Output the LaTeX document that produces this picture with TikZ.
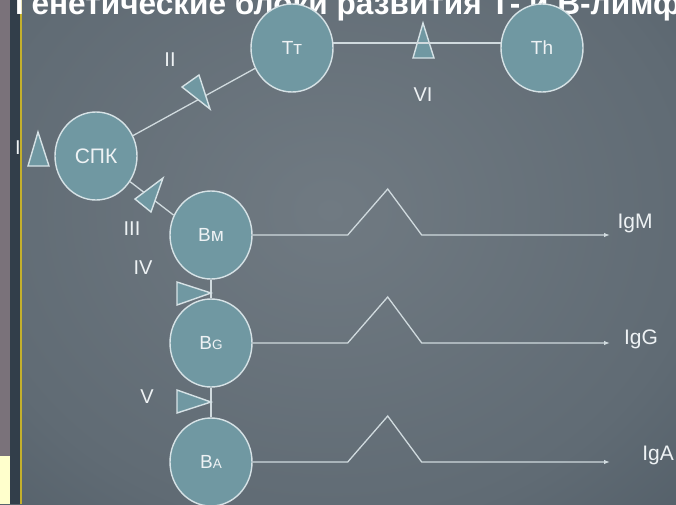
\documentclass[tikz,border=0pt]{standalone}
\usepackage{fontspec}
\setmainfont{Liberation Sans}
\usetikzlibrary{shapes.geometric,arrows.meta}

\definecolor{cellfill}{RGB}{112,152,162}
\definecolor{cellline}{RGB}{214,226,230}
\definecolor{wirecol}{RGB}{208,218,222}
\definecolor{ink}{RGB}{238,242,244}
\definecolor{stripgrey}{RGB}{122,114,122}
\definecolor{stripcream}{RGB}{255,255,204}
\definecolor{stripdark}{RGB}{50,62,74}
\definecolor{rulecol}{RGB}{196,176,44}
\definecolor{bgA}{RGB}{112,122,130}
\definecolor{bgB}{RGB}{96,107,116}
\definecolor{bgC}{RGB}{76,88,98}
\definecolor{bgD}{RGB}{56,68,80}
\definecolor{bgE}{RGB}{34,48,61}
\pgfdeclareradialshading{slide}{\pgfpoint{0bp}{0bp}}{color(0bp)=(bgA); color(22bp)=(bgB); color(36bp)=(bgC); color(46bp)=(bgD); color(60bp)=(bgE)}

\tikzset{
  cell/.style={ellipse, draw=cellline, fill=cellfill, line width=1.4pt,
    minimum width=82pt, minimum height=88pt, inner sep=0pt, text=ink,
    font=\fontsize{19}{19}\selectfont},
  gene/.style={draw=cellline, fill=cellfill, line width=1.4pt},
  link/.style={draw=wirecol, line width=1.3pt},
  numeral/.style={text=ink, inner sep=0pt, font=\fontsize{20}{20}\selectfont},
}

\begin{document}
\begin{tikzpicture}[x=1pt,y=-1pt]
  \useasboundingbox (0,0) rectangle (676,504);
  \clip (0,0) rectangle (676,504);
  \shade[shading=slide] (-90,-150) rectangle (750,570);
  \fill[stripdark] (10,0) rectangle (20,504);
  \fill[stripgrey] (0,0) rectangle (10,456);
  \fill[stripcream] (0,456) rectangle (10,504);
  \draw[rulecol, line width=2pt] (21,0) -- (21,504);

  \node[anchor=base west, inner sep=0pt, text=white,
    font=\fontsize{31.6}{31.6}\bfseries\selectfont] (title) at (15,14.5)
    {Генетические блоки развития Т- и В-лимф};

  \node[cell, font=\fontsize{21}{21}\selectfont] (spk) at (96,156) {СПК};
  \node[cell] (tt)  at (292,48)  {Тт};
  \node[cell] (th)  at (542,48)  {Th};
  \node[cell] (bm)  at (211,235) {Bм};
  \node[cell] (bg)  at (211,343) {B{\fontsize{13.5}{13.5}\selectfont G}};
  \node[cell] (ba)  at (211,462) {B{\fontsize{13.5}{13.5}\selectfont A}};

  \filldraw[gene] (423,23) -- (413,58) -- (434,58) -- cycle;
  \draw[link] (spk) -- (tt);
  \draw[link] (spk.-37) -- (bm.152);
  \draw[link] (tt.7) -- (th.173);
  \draw[link] (bm) -- (bg);
  \draw[link] (bg) -- (ba);

  \foreach \a/\b/\c in {{38,132}/{28,166}/{49,166}, {182,87}/{199,75}/{210,109},
      {135,199}/{163,178}/{151,212}, {177,282}/{177,305}/{211,293},
      {177,390}/{177,413}/{211,402}}
    \filldraw[gene] (\a) -- (\b) -- (\c) -- cycle;

  \node[numeral] (n1) at (18,148)  {I};
  \node[numeral] (n2) at (170,60)  {II};
  \node[numeral] (n3) at (132,229) {III};
  \node[numeral] (n4) at (143,268) {IV};
  \node[numeral] (n5) at (147,397) {V};
  \node[numeral] (n6) at (423,95)  {VI};

  \coordinate (tm) at (610,235);
  \coordinate (tg) at (610,343);
  \coordinate (ta) at (610,462);
  \node[numeral, font=\fontsize{21}{21}\selectfont] (igm) at (635,223) {IgM};
  \node[numeral, font=\fontsize{21}{21}\selectfont] (igg) at (641,339) {IgG};
  \node[numeral, font=\fontsize{21}{21}\selectfont] (iga) at (658,455) {IgA};

  \foreach \c/\t in {bm/tm, bg/tg, ba/ta}
    \draw[link, -{Latex[length=6pt,width=4.5pt]}] (\c.east) -- ++(95,0)
      -- ++(40,-46) -- ++(34,46) -- (\t);
\end{tikzpicture}
\end{document}
